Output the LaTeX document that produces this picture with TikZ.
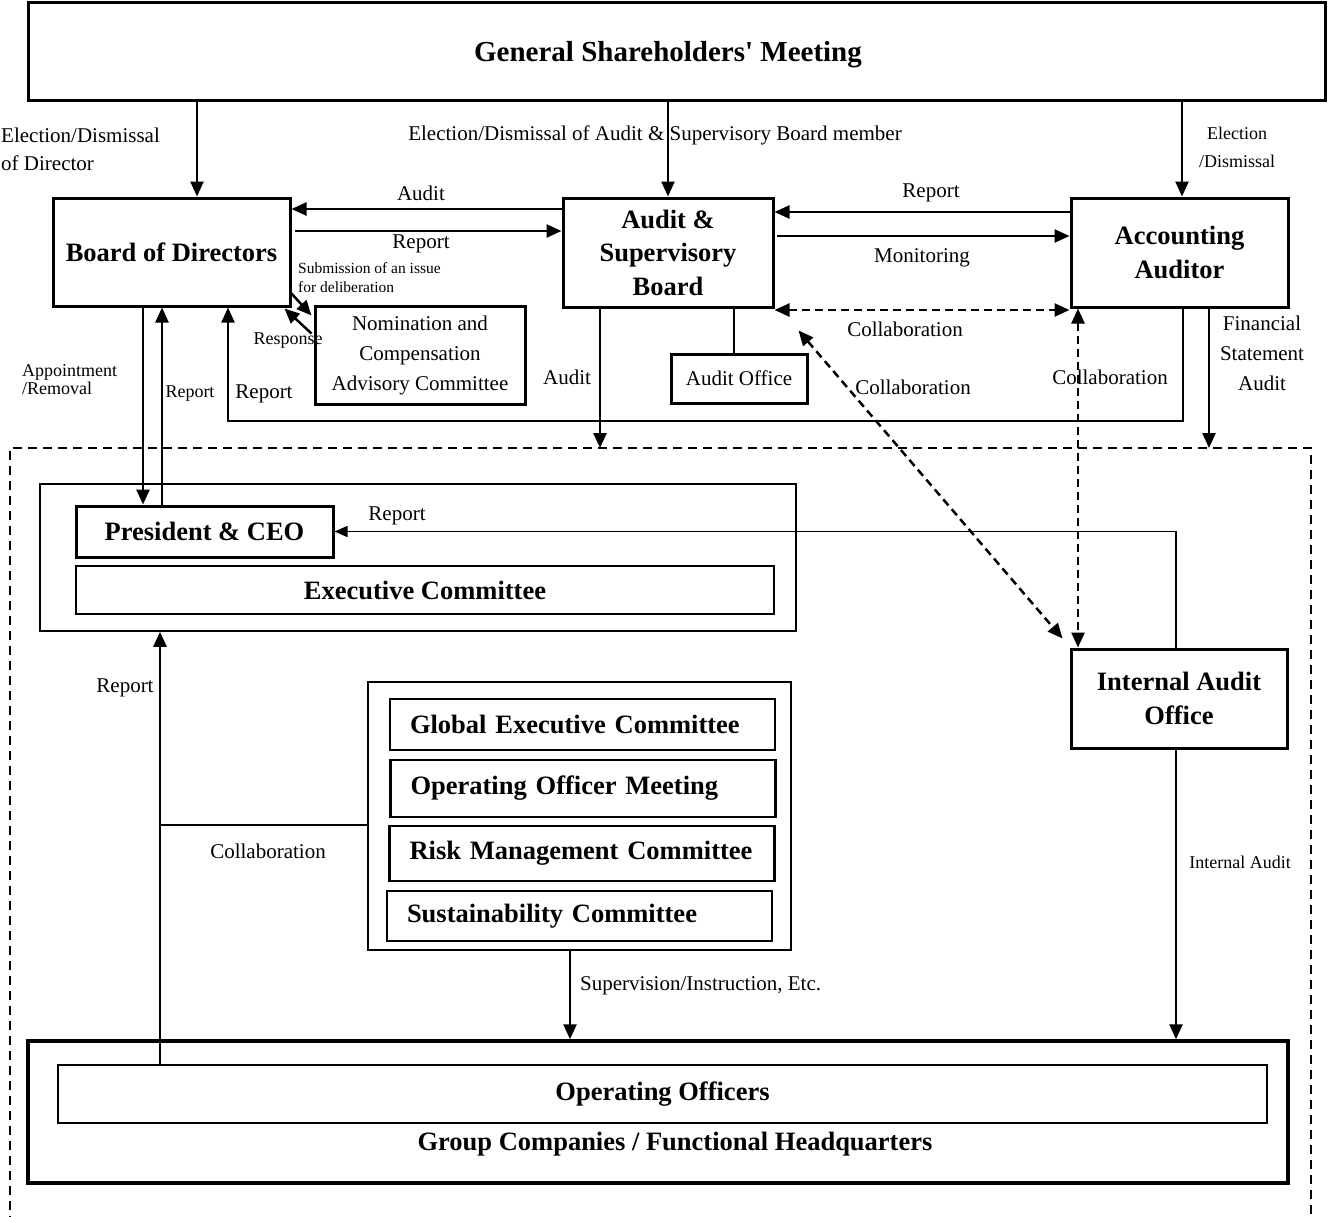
\documentclass[tikz,border=0pt]{standalone}
\usepackage{fontspec}
\setmainfont{Liberation Serif}
\usetikzlibrary{arrows.meta,calc}
\newcommand\fBig{\fontsize{29}{34}\selectfont\bfseries}
\newcommand\fBold{\fontsize{26.5}{33.5}\selectfont\bfseries}
\newcommand\fReg{\fontsize{21}{28}\selectfont}
\newcommand\fRegW{\fontsize{21}{30}\selectfont}
\newcommand\fSm{\fontsize{18}{18}\selectfont}
\newcommand\fSmW{\fontsize{18}{28}\selectfont}
\newcommand\fXs{\fontsize{15.5}{19}\selectfont}
\begin{document}
\begin{tikzpicture}[x=1pt,y=-1pt,
 box/.style={draw, line width=3pt, inner sep=0pt, align=center, font=\fBold},
 cbox/.style={draw, line width=2.5pt, inner xsep=20pt, inner ysep=0pt, align=left, font=\fBold, text width=345pt, minimum height=#1},
 arr/.style={line width=2.5pt, -{Triangle[length=15pt,width=13pt]}},
 darr/.style={line width=2.5pt, dash pattern=on 8pt off 5pt, {Triangle[length=15pt,width=13pt]}-{Triangle[length=15pt,width=13pt]}},
 tline/.style={line width=1.5pt},
 tarr/.style={line width=1.5pt, -{Triangle[length=13pt,width=11pt]}},
 marr/.style={line width=2pt, -{Triangle[length=15pt,width=13pt]}},
 lbl/.style={font=\fReg, inner sep=0pt},
 slbl/.style={font=\fSm, inner sep=0pt},
]
\useasboundingbox (0,0) rectangle (1328,1216);

% ---------- top level boxes ----------
\node[box, minimum width=1297pt, minimum height=98pt] (gsm) at (676.5,51) {};
\node[font=\fBig, inner sep=0pt] (gsmt) at (668,55) {General Shareholders\textquotesingle{} Meeting};
\node[box, minimum width=237pt, minimum height=108pt] (board) at (171.5,252) {Board of Directors};
\node[box, minimum width=210pt, minimum height=109pt] (asb) at (668,252.5) {Audit \&\\Supervisory\\Board};
\node[box, minimum width=217pt, minimum height=109pt] (aa) at (1179.5,252.5) {Accounting\\Auditor};
\node[box, font=\fRegW, minimum width=210pt, minimum height=98pt] (nom) at (420,355) {Nomination and\\Compensation\\Advisory Committee};
\node[box, font=\fReg, minimum width=136pt, minimum height=49pt] (aoff) at (739,378.5) {Audit Office};

% ---------- dashed executive region ----------
\draw[line width=2.5pt, dash pattern=on 9pt off 6pt] (10,1225) -- (10,448) -- (1311,448) -- (1311,1225);
\coordinate (dA) at (600,448);
\coordinate (dF) at (1209,448);

\node[draw, line width=1.5pt, inner sep=0pt, minimum width=756pt, minimum height=147pt] (execouter) at (418,557.5) {};
\node[box, minimum width=257pt, minimum height=51pt] (pres) at (204.5,531.5) {President \& CEO};
\node[box, line width=2.5pt, minimum width=698pt, minimum height=48pt] (exec) at (425,590) {Executive Committee};

\node[draw, line width=2pt, inner sep=0pt, minimum width=423pt, minimum height=268pt] (comouter) at (579.5,816) {};
\node[cbox=51pt] (gec) at (582.5,724.5) {Global Executive Committee};
\node[cbox=57pt] (oom) at (583,788.5) {Operating Officer Meeting};
\node[cbox=55pt] (rmc) at (582,853.5) {Risk Management Committee};
\node[cbox=50pt] (sc) at (579.5,916) {Sustainability Committee};

\node[box, minimum width=216pt, minimum height=99pt] (iao) at (1179,698.5) {Internal Audit\\Office};

\node[draw, line width=3.5pt, inner sep=0pt, minimum width=1260pt, minimum height=142pt] (grp) at (658,1112) {};
\node[box, line width=2.5pt, minimum width=1209pt, minimum height=58pt] (oo) at (662.5,1094) {Operating Officers};
\node[font=\fBold, inner sep=0pt] (grpt) at (675,1144) {Group Companies / Functional Headquarters};

% ---------- connectors from GSM ----------
\draw[arr] (197,0 |- gsm.south) -- (197,0 |- board.north);
\draw[arr] (668,0 |- gsm.south) -- (668,0 |- asb.north);
\draw[arr] (1182,0 |- gsm.south) -- (1182,0 |- aa.north);
\node[lbl, anchor=west, align=left] (l1) at (1,149) {Election/Dismissal\\of Director};
\node[lbl] (l2) at (655,135) {Election/Dismissal of Audit \& Supervisory Board member};
\node[slbl, font=\fSmW, align=center] (l3) at (1237,147) {Election\\/Dismissal};

% ---------- Board <-> ASB ----------
\draw[arr] (asb.west |- 0,209) -- (board.east |- 0,209);
\node[lbl] (l4) at (421,193) {Audit};
\draw[arr] (295,231) -- (asb.west |- 0,231);
\node[lbl] (l5) at (421,244) {Report};
\node[font=\fXs, inner sep=0pt, anchor=west, align=left] (l6) at (298,277.5) {Submission of an issue\\for deliberation};

% ---------- Board <-> Nomination ----------
\draw[arr] ($(board.south east)+(0,-14)$) -- ($(nom.north west)+(-2,11)$);
\draw[arr] ($(nom.north west)+(-2,29)$) -- ($(board.south east)+(-7,1)$);
\node[slbl] (l7) at (288,341) {Response};

% ---------- ASB <-> Accounting Auditor ----------
\draw[arr] (aa.west |- 0,212) -- (asb.east |- 0,212);
\node[lbl] (l8) at (931,193) {Report};
\draw[arr] (777,236) -- (aa.west |- 0,236);
\node[lbl] (l9) at (922,258) {Monitoring};
\draw[darr] (asb.east |- 0,310) -- (aa.west |- 0,310);
\node[lbl] (l10) at (905,329) {Collaboration};

% ---------- collaboration with Internal Audit Office ----------
\draw[darr] ($(asb.south east)+(24,22)$) -- ($(iao.north west)+(-7,-9)$);
\node[lbl] (l11) at (913,387) {Collaboration};
\draw[darr] (1078,0 |- aa.south) -- (1078,0 |- iao.north);
\node[lbl] (l12) at (1110,377) {Collaboration};

% ---------- ASB to audit office and executive region ----------
\draw[tline] (734,0 |- asb.south) -- (734,0 |- aoff.north);
\draw[arr] (600,0 |- asb.south) -- (dA);
\node[lbl] (l13) at (567,377) {Audit};

% ---------- Accounting auditor report / FS audit ----------
\draw[marr] (1183,0 |- aa.south) -- (1183,421) -- (228,421) -- (228,0 |- board.south);
\node[lbl] (l14) at (264,394) {Report};
\draw[arr] (1209,0 |- aa.south) -- (dF);
\node[lbl, font=\fRegW, align=center] (l15) at (1262,353) {Financial\\Statement\\Audit};

% ---------- Board <-> President ----------
\draw[arr] (143,0 |- board.south) -- (143,0 |- pres.north);
\draw[arr] (162,0 |- pres.north) -- (162,0 |- board.south);
\node[slbl, anchor=west, align=left] (l16) at (22,380) {Appointment\\/Removal};
\node[slbl] (l17) at (190,394) {Report};

% ---------- Internal Audit Office report to President ----------
\draw[tarr] (1176,0 |- iao.north) -- (1176,0 |- pres.east) -- (pres.east);
\node[lbl] (l18) at (397,516) {Report};

% ---------- Operating officers report, collaboration ----------
\draw[arr] (160,0 |- oo.north) -- (160,0 |- execouter.south);
\node[lbl] (l19) at (125,688) {Report};
\coordinate (cL) at (160,825);
\draw[tline] (cL) -- (comouter.west |- cL);
\node[lbl] (l20) at (268,851) {Collaboration};

% ---------- supervision & internal audit ----------
\draw[arr] (570,0 |- comouter.south) -- (570,0 |- grp.north);
\node[lbl, anchor=west] (l21) at (580,986) {Supervision/Instruction, Etc.};
\draw[arr] (1176,0 |- iao.south) -- (1176,0 |- grp.north);
\node[slbl] (l22) at (1240,862) {Internal Audit};
\end{tikzpicture}
\end{document}
